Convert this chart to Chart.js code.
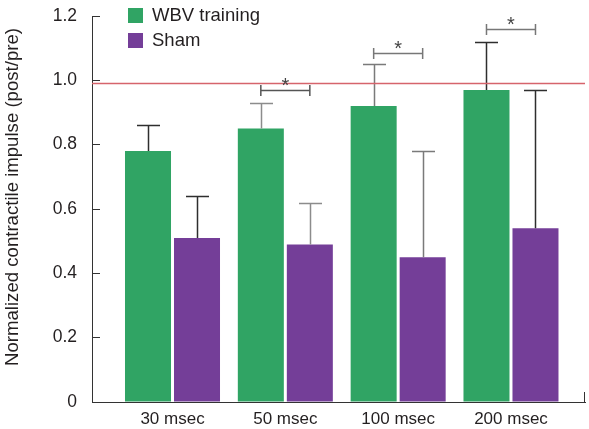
<!DOCTYPE html>
<html><head><meta charset="utf-8">
<script src="https://cdn.jsdelivr.net/npm/chart.js@4"></script>
<style>html,body{margin:0;padding:0;background:#fff}canvas{display:block}</style>
</head><body>
<canvas id="c" width="589" height="429"></canvas>
<script>
// ---- data ----
const categories = ['30 msec', '50 msec', '100 msec', '200 msec'];
const wbvMeans = [0.78, 0.85, 0.92, 0.97];
const wbvErr = [0.08, 0.08, 0.13, 0.15];
const shamMeans = [0.51, 0.49, 0.45, 0.54];
const shamErr = [0.13, 0.13, 0.33, 0.43];
const sigBracketY = [null, 0.97, 1.085, 1.16];
const referenceLine = 0.99;
const seriesNames = ['WBV training', 'Sham'];
const yTitle = 'Normalized contractile impulse (post/pre)';

// ---- styles ----
const FONT = "'Liberation Sans', Arial, sans-serif";
const TEXT = '#231f20';
const GREEN = '#30a464', PURPLE = '#743e98', RED = '#d6646c', AXIS = '#333333';
const errColors = ['#2e2e2e', '#8c8c8c', '#7a7a7a', '#2e2e2e'];
const bracketColors = ['#444', '#555', '#777', '#777'];

Chart.defaults.font.family = FONT;
Chart.defaults.color = TEXT;

const overlay = {
  id: 'overlay',
  afterDatasetsDraw(chart) {
    const ctx = chart.ctx, xs = chart.scales.x, ys = chart.scales.y, ca = chart.chartArea;
    ctx.save();
    // error bars
    [[wbvMeans, wbvErr], [shamMeans, shamErr]].forEach((pair, di) => {
      chart.getDatasetMeta(di).data.forEach((bar, i) => {
        const x = Math.round(bar.x) + 0.5;
        const y0 = ys.getPixelForValue(pair[0][i]);
        const y1 = Math.round(ys.getPixelForValue(pair[0][i] + pair[1][i])) + 0.5;
        ctx.strokeStyle = errColors[i];
        ctx.lineWidth = 1.5;
        ctx.beginPath();
        ctx.moveTo(x, y0); ctx.lineTo(x, y1);
        ctx.moveTo(x - 11.5, y1); ctx.lineTo(x + 11.5, y1);
        ctx.stroke();
      });
    });
    // reference line
    const ry = ys.getPixelForValue(referenceLine);
    ctx.strokeStyle = RED; ctx.lineWidth = 1.5;
    ctx.beginPath(); ctx.moveTo(ca.left, ry); ctx.lineTo(ca.right, ry); ctx.stroke();
    // significance brackets
    sigBracketY.forEach((v, i) => {
      if (v == null) return;
      const xa = chart.getDatasetMeta(0).data[i].x, xb = chart.getDatasetMeta(1).data[i].x;
      const y = Math.round(ys.getPixelForValue(v)) + 0.5;
      ctx.strokeStyle = bracketColors[i]; ctx.lineWidth = 1.5;
      ctx.beginPath();
      ctx.moveTo(xa, y); ctx.lineTo(xb, y);
      ctx.moveTo(xa, y - 5.5); ctx.lineTo(xa, y + 5.5);
      ctx.moveTo(xb, y - 5.5); ctx.lineTo(xb, y + 5.5);
      ctx.stroke();
      ctx.fillStyle = '#444';
      ctx.font = '20px ' + FONT;
      ctx.textAlign = 'center'; ctx.textBaseline = 'alphabetic';
      ctx.fillText('*', (xa + xb) / 2, y + 1);
    });
    // right-end x tick
    ctx.strokeStyle = AXIS; ctx.lineWidth = 1;
    ctx.beginPath(); ctx.moveTo(xs.right - 0.5, ys.bottom); ctx.lineTo(xs.right - 0.5, ys.bottom - 10); ctx.stroke();
    // legend
    const colors = [GREEN, PURPLE];
    ctx.font = '18.5px ' + FONT;
    ctx.textAlign = 'left'; ctx.textBaseline = 'middle';
    seriesNames.forEach((n, k) => {
      const top = 8 + k * 25;
      ctx.fillStyle = colors[k];
      ctx.fillRect(ca.left + 36, top, 15, 15);
      ctx.fillStyle = TEXT;
      ctx.fillText(n, ca.left + 60, top + 8);
    });
    // y title
    ctx.translate(13, 197);
    ctx.rotate(-Math.PI / 2);
    ctx.font = '18.6px ' + FONT;
    ctx.textAlign = 'center'; ctx.textBaseline = 'middle';
    ctx.fillStyle = TEXT;
    ctx.fillText(yTitle, 0, 0);
    ctx.restore();
  }
};

function zeroPad(s) { s.paddingTop = 0; s.paddingBottom = 0; s.paddingLeft = 0; s.paddingRight = 0; }

new Chart(document.getElementById('c'), {
  type: 'bar',
  data: {
    datasets: [
      { label: seriesNames[0], data: wbvMeans.map((v, i) => ({ x: i, y: v })), backgroundColor: GREEN,
        categoryPercentage: 0.8686, barPercentage: 0.939 },
      { label: seriesNames[1], data: shamMeans.map((v, i) => ({ x: i, y: v })), backgroundColor: PURPLE,
        categoryPercentage: 0.8686, barPercentage: 0.939 }
    ]
  },
  options: {
    responsive: false,
    animation: false,
    devicePixelRatio: 1,
    layout: { padding: { top: 16, right: 4, left: 0, bottom: 0 } },
    plugins: { legend: { display: false }, tooltip: { enabled: false } },
    scales: {
      x: {
        type: 'linear', min: -0.7135, max: 3.656, offset: false,
        afterBuildTicks: s => { s.ticks = categories.map((c, i) => ({ value: i })); },
        afterFit: s => { s.height = 27; zeroPad(s); },
        grid: { display: false, drawTicks: false, offset: false },
        border: { display: true, color: AXIS, width: 1 },
        ticks: { autoSkip: false, maxRotation: 0, padding: 7, font: { size: 17 }, color: TEXT,
          callback: v => categories[v] }
      },
      y: {
        min: 0, max: 1.2,
        afterFit: s => { s.width = 92; zeroPad(s); },
        grid: { display: true, drawOnChartArea: false, drawTicks: true, tickLength: -8, tickColor: AXIS, tickWidth: 1 },
        border: { display: true, color: AXIS, width: 1 },
        ticks: { stepSize: 0.2, padding: 23, font: { size: 17.5 }, color: TEXT,
          callback: v => (v === 0 ? '0' : v.toFixed(1)) }
      }
    }
  },
  plugins: [overlay]
});
</script>
</body></html>
